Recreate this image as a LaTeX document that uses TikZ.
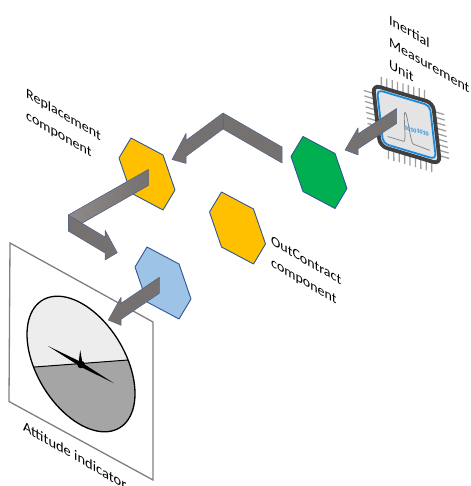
\documentclass[tikz,border=0pt]{standalone}
\usepackage{fontspec}
\setmainfont{Carlito}
\usetikzlibrary{calc}

\definecolor{edgeblue}{HTML}{2F5597}
\definecolor{hexyellow}{HTML}{FFC000}
\definecolor{hexgreen}{HTML}{00B050}
\definecolor{hexlight}{HTML}{9DC3E6}
\definecolor{arrowgray}{HTML}{767171}
\definecolor{arrowlight}{HTML}{8E8A8A}
\definecolor{panelgray}{HTML}{7F7F7F}
\definecolor{chipdark}{HTML}{404040}
\definecolor{chipgray}{HTML}{E4E4E4}
\definecolor{chipblue}{HTML}{1C8ADB}
\definecolor{dialtop}{HTML}{EDEDED}
\definecolor{dialbottom}{HTML}{A5A5A5}

% skewed hexagon around a coordinate
\newcommand{\hexa}[2]{\draw[hex,fill=#2] ($(#1)+(-16,-36)$) -- ++(32,17) -- ++(12,35) -- ++(-12,20) -- ++(-32,-17) -- ++(-12,-35) -- cycle;}
% flat arrow: tail, end of shaft, tip, half width, barb
\newcommand{\flatarrow}[5]{\filldraw[flat] ($(#1)+(0,-#4)$) -- ($(#2)+(0,-#4)$) -- ($(#2)+(0,-#4-#5)$) -- (#3) -- ($(#2)+(0,#4+#5)$) -- ($(#2)+(0,#4)$) -- ($(#1)+(0,#4)$) -- cycle;}
% flat bar between two coordinates
\newcommand{\flatbar}[4][]{\filldraw[flat,#1] ($(#2)+(0,-#4)$) -- ($(#3)+(0,-#4)$) -- ($(#3)+(0,#4)$) -- ($(#2)+(0,#4)$) -- cycle;}

\begin{document}
\begin{tikzpicture}[x=1pt,y=-1pt,
  hex/.style={draw=edgeblue,line width=0.9pt,line join=round},
  flat/.style={fill=arrowgray,draw=edgeblue!55!arrowgray,line width=0.5pt,line join=round},
  pin/.style={draw=gray!75,line width=1.3pt},
  lbl/.style={anchor=north west,inner sep=0pt,align=left,font=\fontsize{14}{22}\selectfont,yslant=-0.58}]
\useasboundingbox (0,0) rectangle (470,486);
\clip (0,0) rectangle (470,486);

% attitude indicator
\draw[panelgray,line width=1.3pt] (10,243) -- (153,322) -- (153,480) -- (9,401.5) -- cycle;
\coordinate (dial) at (81,364);
\begin{scope}
\clip plot[domain=0:360,samples=90] ({81+54*cos(\x)},{364+29.6*cos(\x)+61*sin(\x)}) -- cycle;
\fill[dialtop] (20,280) rectangle (140,440);
\fill[dialbottom] (20,368.1) -- (140,359.1) -- (140,440) -- (20,440) -- cycle;
\draw[line width=1pt] (20,368.1) -- (140,359.1);
\end{scope}
\draw[line width=1.3pt] plot[domain=0:360,samples=90] ({81+54*cos(\x)},{364+29.6*cos(\x)+61*sin(\x)}) -- cycle;
\fill (48,346) -- (80,361.5) -- (113.5,383) -- (81,367) -- cycle;
\fill (78.3,365) -- (80.2,350) -- (82.8,365) -- cycle;
\fill (dial) ++(0,0.5) circle (3.8pt);

% IMU chip
\begin{scope}[shift={(373,85)},x={(60pt,-18pt)},y={(7pt,-61pt)}]
\foreach \s in {0.14,0.23,...,0.88}{
  \draw[pin] (\s,0) -- ++(0.02,-0.18);
  \draw[pin] (\s,1) -- ++(-0.02,0.18);
  \draw[pin] (0,\s) -- ++(-0.17,0);
  \draw[pin] (1,\s) -- ++(0.17,0);
}
\draw[line width=3.8pt,draw=chipdark,fill=chipgray,rounded corners=7pt] (0,0) -- (1,0) -- (1,1) -- (0,1) -- cycle;
\draw[line width=1.8pt,draw=chipblue,rounded corners=5pt] (0.06,0.06) -- (0.94,0.06) -- (0.94,0.94) -- (0.06,0.94) -- cycle;
\draw[gray,line width=0.7pt] (0.15,0.8) -- (0.42,0.8) .. controls (0.47,0.8) and (0.46,0.3) .. (0.5,0.3) .. controls (0.54,0.3) and (0.53,0.8) .. (0.58,0.8) -- (0.85,0.82);
\node[text=chipblue,inner sep=0pt,yslant=-0.3,font=\fontsize{6}{6}\selectfont\bfseries] (bits) at (0.66,0.56) {10101010};
\end{scope}

% components
\coordinate (rep) at (147,174);
\coordinate (grn) at (319,172.5);
\coordinate (outc) at (237.5,228);
\coordinate (blu) at (163,283);
\hexa{rep}{hexyellow}
\hexa{grn}{hexgreen}
\hexa{outc}{hexyellow}
\hexa{blu}{hexlight}

% arrows
\coordinate (t1) at (396.5,116); \coordinate (e1) at (358,141.4); \coordinate (p1) at (345,150);
\flatarrow{t1}{e1}{p1}{7.5}{6}
\coordinate (t2) at (282,155); \coordinate (f2) at (223,121);
\coordinate (e2) at (186,148.4); \coordinate (p2) at (172,159.5);
\flatbar{t2}{f2}{8}
\flatarrow{f2}{e2}{p2}{8}{7}
\coordinate (t3) at (148.3,177.5); \coordinate (f3) at (68.3,223);
\coordinate (e3) at (105,245); \coordinate (p3) at (117.3,252.7);
\flatbar[left color=arrowlight,right color=arrowgray]{t3}{f3}{8}
\flatarrow{f3}{e3}{p3}{8}{7}
\coordinate (t4) at (159.3,285.3); \coordinate (e4) at (121,311.3); \coordinate (p4) at (108.3,320);
\flatarrow{t4}{e4}{p4}{8}{6}

% labels
\node[lbl] (replbl) at (26,87.5) {Replacement\\component};
\node[lbl] (outlbl) at (271,235) {OutContract\\component};
\node[lbl] (imulbl) at (389,14.5) {Inertial\\Measurement\\Unit};
\node[lbl,font=\fontsize{14.5}{22}\selectfont] (attlbl) at (23,420) {Attitude indicator};
\end{tikzpicture}
\end{document}
